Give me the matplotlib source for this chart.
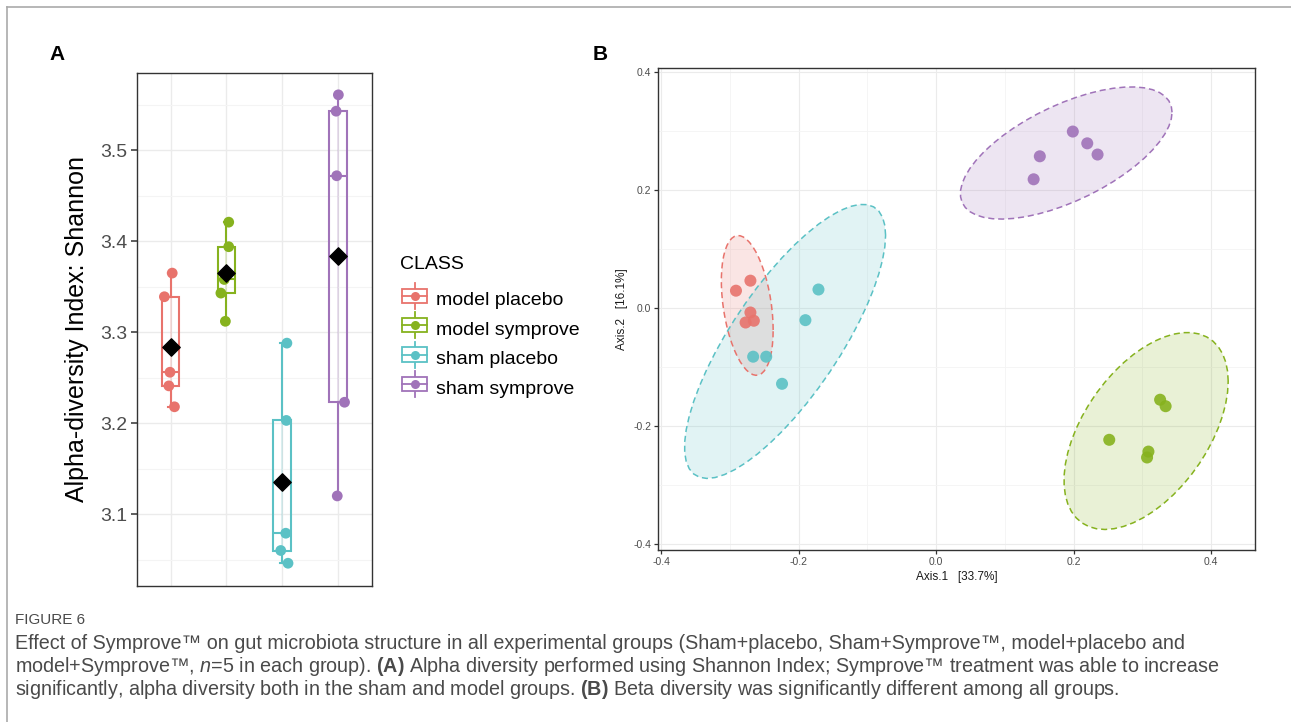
import numpy as np
import matplotlib
matplotlib.use('Agg')
import matplotlib.pyplot as plt
from matplotlib.lines import Line2D
from matplotlib.patches import Rectangle
from matplotlib.legend_handler import HandlerBase

# ── Data ──────────────────────────────────────────────────────────────────────
GROUPS = ['model placebo', 'model symprove', 'sham placebo', 'sham symprove']
COLORS = ['#E8736C', '#86B21E', '#5BC1C5', '#A073B9']

# panel A: Shannon index per animal (n=5) and horizontal jitter
shannon = [
    [3.365, 3.339, 3.256, 3.241, 3.218],
    [3.421, 3.394, 3.358, 3.343, 3.312],
    [3.288, 3.203, 3.079, 3.060, 3.046],
    [3.561, 3.543, 3.472, 3.223, 3.120],
]
jitter = [
    [0.03, -0.11, -0.01, -0.03, 0.07],
    [0.04, 0.04, -0.04, -0.10, -0.02],
    [0.08, 0.07, 0.06, -0.03, 0.10],
    [0.00, -0.04, -0.03, 0.11, -0.02],
]
shannon_ticks = [3.1, 3.2, 3.3, 3.4, 3.5]

# panel B: PCoA coordinates
axis1 = [
    [-0.291, -0.270, -0.270, -0.277, -0.265],
    [0.326, 0.334, 0.252, 0.309, 0.307],
    [-0.171, -0.190, -0.266, -0.247, -0.224],
    [0.199, 0.220, 0.235, 0.151, 0.142],
]
axis2 = [
    [0.029, 0.046, -0.008, -0.025, -0.022],
    [-0.156, -0.167, -0.224, -0.244, -0.254],
    [0.031, -0.021, -0.083, -0.083, -0.129],
    [0.299, 0.279, 0.260, 0.257, 0.218],
]
pcoa_ticks = [-0.4, -0.2, 0.0, 0.2, 0.4]
ELLIPSE_LEVEL = 0.95

CAPTION_TITLE = 'FIGURE 6'
CAPTION_LINES = [
    'Effect of Symprove™ on gut microbiota structure in all experimental groups '
    '(Sham+placebo, Sham+Symprove™, model+placebo and',
    r'model+Symprove™, $\it{n}$=5 in each group). $\bf{(A)}$ Alpha diversity performed '
    'using Shannon Index; Symprove™ treatment was able to increase',
    r'significantly, alpha diversity both in the sham and model groups. $\bf{(B)}$ '
    'Beta diversity was significantly different among all groups.',
]

PALETTE = {
    'dark':  '#1A1A1A',
    'tick':  '#4D4D4D',
    'grid':  '#EBEBEB',
    'minor': '#F4F4F4',
    'frame': '#333333',
    'cap':   '#4A4A4A',
    'rule':  '#AAAAAA',
}

plt.rcParams.update({
    'font.family': ['Liberation Sans', 'DejaVu Sans'],
    'axes.unicode_minus': False,
    'mathtext.fontset': 'custom',
    'mathtext.rm': 'Liberation Sans',
    'mathtext.it': 'Liberation Sans:italic',
    'mathtext.bf': 'Liberation Sans:bold',
})


# ── Helpers ───────────────────────────────────────────────────────────────────
def ellipse_path(xs, ys, level=ELLIPSE_LEVEL, segments=51):
    """Normal-theory confidence ellipse, as ggplot's stat_ellipse(type='norm')."""
    pts = np.column_stack([xs, ys])
    center = pts.mean(axis=0)
    shape = np.cov(pts.T)
    dfd = len(xs) - 1
    fq = dfd / 2 * ((1 - level) ** (-2 / dfd) - 1)  # F(2, dfd) quantile
    radius = np.sqrt(2 * fq)
    t = np.linspace(0, 2 * np.pi, segments + 1)
    circle = np.column_stack([np.cos(t), np.sin(t)])
    return center + radius * circle @ np.linalg.cholesky(shape).T


class BoxKey(HandlerBase):
    def create_artists(self, legend, orig, xd, yd, w, h, fontsize, trans):
        c = orig.get_color()
        cx, cy = xd + w / 2, yd + h / 2
        arts = [
            Line2D([cx, cx], [yd - h * 0.3, yd + h * 1.3], color=c, lw=1.3),
            Rectangle((xd, yd + h * 0.05), w, h * 0.9, fc='white', ec=c, lw=1.3),
            Line2D([xd, xd + w], [cy, cy], color=c, lw=1.3),
            Line2D([cx], [cy], marker='o', ms=6.5, color=c, mec='none'),
        ]
        for a in arts:
            a.set_transform(trans)
        return arts


def _frame(ax):
    for s in ax.spines.values():
        s.set_color(PALETTE['frame'])
        s.set_linewidth(1.0)
    ax.set_axisbelow(True)


fig = plt.figure(figsize=(12.91, 7.22), dpi=100)

# card border (top and left rule)
fig.add_artist(Line2D([0.0054, 1], [0.990, 0.990], color=PALETTE['rule'], lw=1.2))
fig.add_artist(Line2D([0.0054, 0.0054], [0, 0.990], color=PALETTE['rule'], lw=1.2))

# ── Panel A: Shannon boxplots ─────────────────────────────────────────────────
axA = fig.add_axes([0.1061, 0.1884, 0.1820, 0.7105])
pos = np.arange(1, len(GROUPS) + 1)

for i, (vals, c) in enumerate(zip(shannon, COLORS)):
    q1, q3 = np.percentile(vals, [25, 75])
    axA.vlines(pos[i], q1, q3, color=c, alpha=0.25, lw=1.2, zorder=2)
    bp = axA.boxplot([vals], positions=[pos[i]], widths=0.32, patch_artist=True,
                     showfliers=False, capwidths=0.1, manage_ticks=False)
    for part in ['whiskers', 'caps', 'medians']:
        for ln in bp[part]:
            ln.set(color=c, lw=1.5, zorder=3)
    for b in bp['boxes']:
        b.set(facecolor='none', edgecolor=c, lw=1.5, zorder=3)
    axA.scatter(pos[i] + np.array(jitter[i]), vals, s=60, color=c,
                edgecolor='none', zorder=4)
    axA.scatter(pos[i], np.mean(vals), marker='D', s=78, color='black', zorder=5)

axA.set_xlim(0.4, 4.6)
axA.set_ylim(3.021, 3.585)
axA.set_xticks(pos)
axA.set_xticklabels([])
axA.set_yticks(shannon_ticks)
axA.set_yticklabels([f'{v:.1f}' for v in shannon_ticks])
axA.set_yticks(list(np.array(shannon_ticks) - 0.05) + [3.55], minor=True)
axA.tick_params(axis='x', length=0)
axA.tick_params(axis='y', which='major', length=4, width=1.1, color=PALETTE['frame'],
                labelsize=14, labelcolor=PALETTE['tick'], pad=3)
axA.tick_params(axis='y', which='minor', length=0)
axA.grid(True, which='major', color=PALETTE['grid'], lw=1.0)
axA.grid(True, which='minor', axis='y', color=PALETTE['minor'], lw=0.8)
axA.set_ylabel('Alpha-diversity Index: Shannon', fontsize=18, color='black', labelpad=8)
_frame(axA)

handles = [Line2D([], [], color=c) for c in COLORS]
fig.text(0.310, 0.633, 'CLASS', fontsize=14, va='center', ha='left')
leg = fig.legend(handles, GROUPS, loc='upper left',
                 bbox_to_anchor=(0.298, 0.622), frameon=False, fontsize=14,
                 handlelength=1.3, handleheight=0.9, labelspacing=0.55,
                 handletextpad=0.45, handler_map={Line2D: BoxKey()})

fig.text(0.044, 0.924, 'A', fontsize=15, fontweight='bold', ha='center', va='center')
fig.text(0.465, 0.924, 'B', fontsize=15, fontweight='bold', ha='center', va='center')

# ── Panel B: PCoA with ellipses ───────────────────────────────────────────────
axB = fig.add_axes([0.5097, 0.2382, 0.4624, 0.6676])
for xs, ys, c in zip(axis1, axis2, COLORS):
    ell = ellipse_path(np.array(xs), np.array(ys))
    axB.fill(ell[:, 0], ell[:, 1], color=c, alpha=0.18, lw=0, zorder=2)
    axB.plot(ell[:, 0], ell[:, 1], color=c, lw=1.1, ls=(0, (4, 2.5)), zorder=3)
for xs, ys, c in zip(axis1, axis2, COLORS):
    axB.scatter(xs, ys, s=75, color=c, alpha=0.9, edgecolor='none', zorder=4)

axB.set_xlim(-0.4044, 0.464)
axB.set_ylim(-0.411, 0.4068)
axB.set_xticks(pcoa_ticks)
axB.set_yticks(pcoa_ticks)
axB.set_xticklabels([f'{v:.1f}' for v in pcoa_ticks])
axB.set_yticklabels([f'{v:.1f}' for v in pcoa_ticks])
axB.set_xticks([-0.3, -0.1, 0.1, 0.3], minor=True)
axB.set_yticks([-0.3, -0.1, 0.1, 0.3], minor=True)
axB.tick_params(which='major', length=3, width=0.9, color=PALETTE['frame'],
                labelsize=7.5, labelcolor=PALETTE['tick'], pad=2)
axB.tick_params(which='minor', length=0)
axB.grid(True, which='major', color=PALETTE['grid'], lw=0.8)
axB.grid(True, which='minor', color=PALETTE['minor'], lw=0.6)
axB.set_xlabel('Axis.1   [33.7%]', fontsize=8.5, color=PALETTE['dark'], labelpad=3)
axB.set_ylabel('Axis.2   [16.1%]', fontsize=8.5, color=PALETTE['dark'], labelpad=4)
_frame(axB)

# ── Caption ───────────────────────────────────────────────────────────────────
fig.text(0.0116, 0.1413, CAPTION_TITLE, fontsize=11, color=PALETTE['cap'], va='center')
for k, line in enumerate(CAPTION_LINES):
    fig.text(0.0116, 0.1094 - k * 0.0325, line, fontsize=14.2, color=PALETTE['cap'],
             va='center')

fig.savefig('out.png', dpi=100, facecolor='white')
